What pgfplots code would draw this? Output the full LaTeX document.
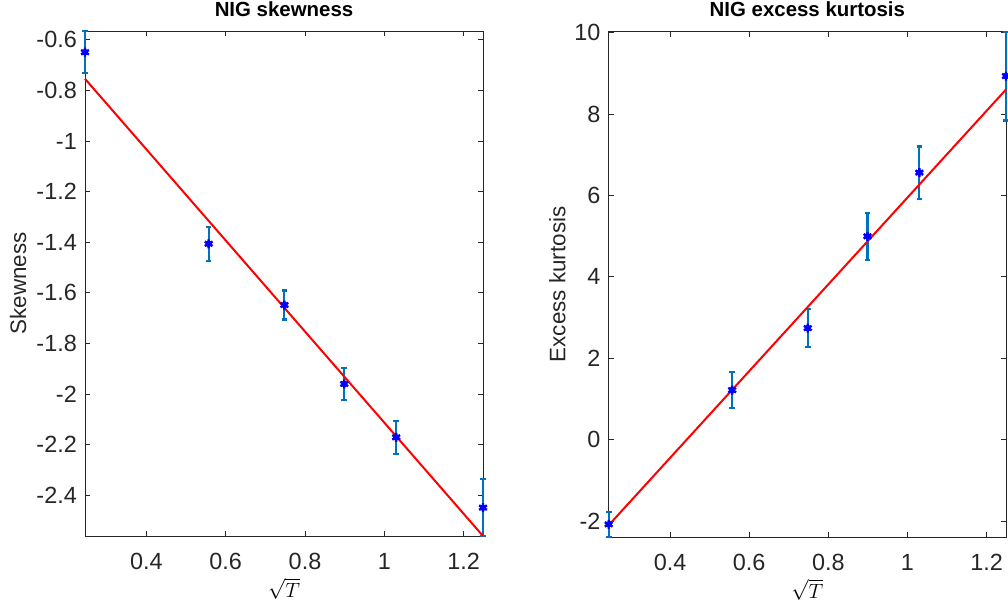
\documentclass[border=0pt]{standalone}
\usepackage{fontspec}
\setmainfont{Liberation Sans}
\usepackage{pgfplots}
\pgfplotsset{compat=1.18}
\definecolor{errc}{RGB}{0,114,189}
\definecolor{axc}{RGB}{38,38,38}
\pgfplotsset{
  mystyle/.style={
    scale only axis,
    clip=false,
    anchor=south west,
    xmin=0.245, xmax=1.249,
    xtick={0.4,0.6,0.8,1,1.2},
    xticklabels={0.4,0.6,0.8,1,1.2},
    xtick pos=both, ytick pos=both,
    tick align=inside,
    major tick length=5bp,
    axis line style={draw=axc, line width=0.8bp},
    every tick/.style={draw=axc, line width=0.8bp},
    /pgf/number format/assume math mode=true,
    tick label style={font=\fontsize{23.5}{28}\selectfont, text=axc},
    xticklabel style={anchor=base, inner sep=0pt, yshift=-33bp},
    yticklabel style={anchor=east, inner sep=0pt, xshift=-8bp},
    title style={font=\bfseries\fontsize{20.5}{24}\selectfont, at={(axis description cs:0.5,1)}, anchor=base, inner sep=0pt, yshift=9bp},
    xlabel style={font=\fontsize{20}{24}\selectfont, at={(axis description cs:0.5,-0.105)}, anchor=center, inner sep=0pt},
    ylabel style={font=\fontsize{22.5}{27}\selectfont, text=axc, anchor=center, inner sep=0pt},
    xlabel={$\sqrt{T}$},
  },
  errstyle/.style={
    draw=none, mark=none, forget plot, line width=2.2bp, color=errc,
    error bars/.cd, y dir=both, y explicit,
    error bar style={draw=errc, line width=2.2bp},
    error mark options={rotate=90, draw=errc, line width=2.2bp, mark size=2.8bp},
  },
  markstyle/.style={only marks, mark=asterisk, mark size=4.5bp, line width=2.4bp, color=blue},
  dotstyle/.style={only marks, mark=*, mark size=3bp, color=blue, forget plot},
}
\pgfplotstableread{
x y e
0.245 -0.649 0.083
0.557 -1.406 0.067
0.748 -1.648 0.057
0.899 -1.960 0.064
1.030 -2.171 0.066
1.249 -2.449 0.112
}\skewdata
\pgfplotstableread{
x y e
0.245 -2.08 0.31
0.557 1.217 0.444
0.748 2.74 0.46
0.899 4.995 0.58
1.030 6.56 0.64
1.249 8.93 1.09
}\kurtdata
\begin{document}
\begin{tikzpicture}
\useasboundingbox (0,0) rectangle (1008bp,601bp);
\begin{axis}[mystyle,
  at={(85bp,65bp)}, width=398bp, height=505bp,
  ymin=-2.561, ymax=-0.565,
  ytick={-2.4,-2.2,-2,-1.8,-1.6,-1.4,-1.2,-1,-0.8,-0.6},
  yticklabels={-2.4,-2.2,-2,-1.8,-1.6,-1.4,-1.2,-1,-0.8,-0.6},
  title={NIG skewness},
  ylabel={Skewness},
  ylabel style={at={(axis description cs:-0.168,0.5)}},
]
\addplot[errstyle] table[x=x, y=y, y error=e] {\skewdata};
\addplot[dotstyle] table[x=x, y=y] {\skewdata};
\addplot[markstyle] table[x=x, y=y] {\skewdata};
\addplot[red, line width=2bp, mark=none] coordinates {(0.245,-0.754) (1.249,-2.561)};
\end{axis}
\begin{axis}[mystyle,
  at={(608.7bp,64bp)}, width=397.3bp, height=505.3bp,
  ymin=-2.39, ymax=10.02,
  ytick={-2,0,2,4,6,8,10},
  yticklabels={-2,0,2,4,6,8,10},
  title={NIG excess kurtosis},
  ylabel={Excess kurtosis},
  ylabel style={at={(axis description cs:-0.129,0.5)}},
]
\addplot[errstyle] table[x=x, y=y, y error=e] {\kurtdata};
\addplot[dotstyle] table[x=x, y=y] {\kurtdata};
\addplot[markstyle] table[x=x, y=y] {\kurtdata};
\addplot[red, line width=2bp, mark=none] coordinates {(0.245,-2.10) (1.249,8.6)};
\end{axis}
\end{tikzpicture}
\end{document}
